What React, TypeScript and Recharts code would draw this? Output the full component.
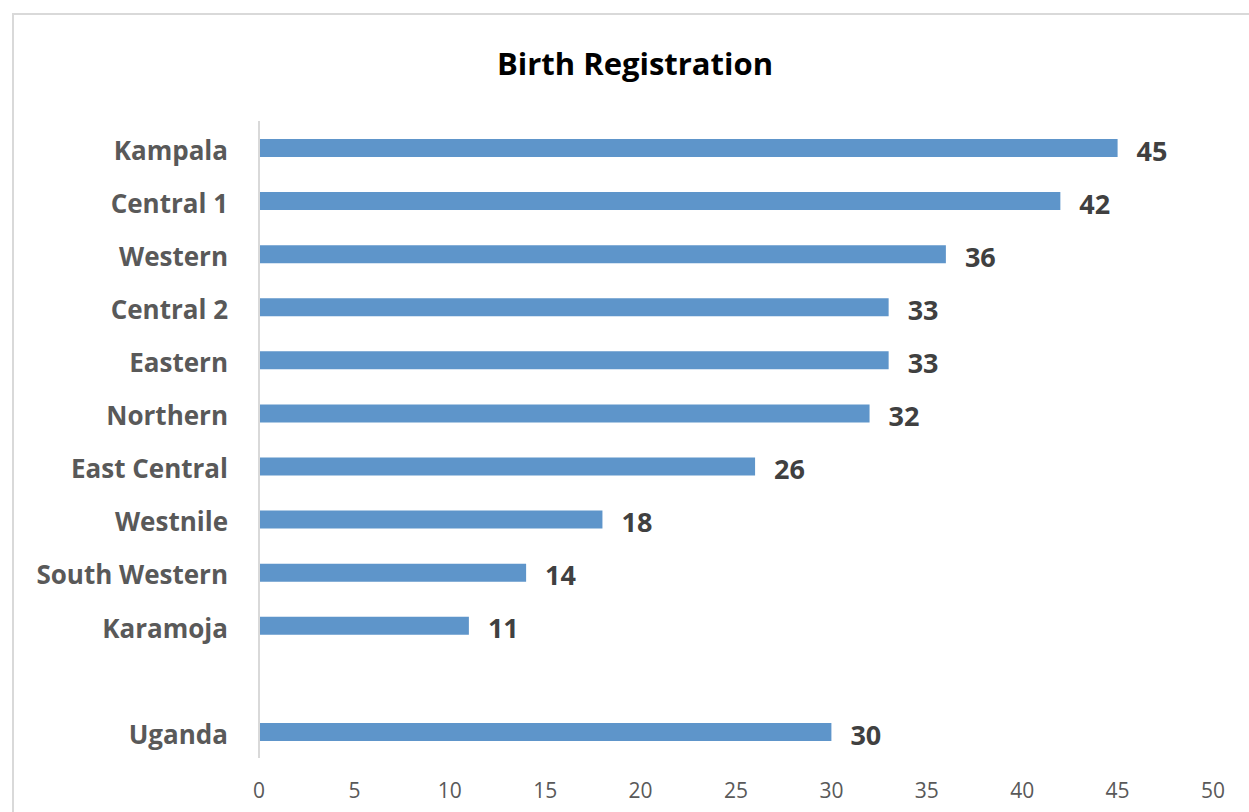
import { BarChart, Bar, XAxis, YAxis, LabelList } from "recharts";

// Regions, top to bottom; the empty name is the gap before Uganda
const REGIONS = [
  "Kampala",
  "Central 1",
  "Western",
  "Central 2",
  "Eastern ",
  "Northern",
  "East Central",
  "Westnile",
  "South Western",
  "Karamoja",
  "",
  "Uganda",
];
const REGISTERED = [45, 42, 36, 33, 33, 32, 26, 18, 14, 11, null, 30];
const X_TICKS = [0, 5, 10, 15, 20, 25, 30, 35, 40, 45, 50];

const data = REGIONS.map((name, i) => ({ name, value: REGISTERED[i] }));

const FONT = "'Open Sans', 'Noto Sans', sans-serif";

export default function App() {
  return (
    <div
      style={{
        position: "fixed",
        top: 0,
        left: 0,
        width: 1249,
        height: 812,
        background: "#fff",
        fontFamily: FONT,
        overflow: "hidden",
      }}
    >
      <div
        style={{
          position: "absolute",
          left: 12,
          top: 13,
          width: 1300,
          height: 900,
          borderTop: "2px solid #d9d9d9",
          borderLeft: "2px solid #d9d9d9",
        }}
      />
      <div
        style={{
          position: "absolute",
          left: 0,
          width: 1270,
          top: 42,
          textAlign: "center",
          fontSize: 31,
          fontWeight: 700,
          color: "#000",
        }}
      >
        Birth Registration
      </div>
      <BarChart
        width={1249}
        height={812}
        data={data}
        layout="vertical"
        margin={{ top: 121, right: 36, bottom: 0, left: 0 }}
        barCategoryGap={17}
        style={{ position: "absolute", top: 0, left: 0 }}
      >
        <XAxis
          type="number"
          domain={[0, 50]}
          ticks={X_TICKS}
          interval={0}
          height={54}
          axisLine={false}
          tickLine={false}
          tickSize={0}
          tickMargin={25}
          tick={{ fill: "#595959", fontSize: 21, fontFamily: FONT }}
        />
        <YAxis
          type="category"
          dataKey="name"
          width={259}
          interval={0}
          axisLine={{ stroke: "#d9d9d9", strokeWidth: 2 }}
          tickLine={false}
          tickSize={0}
          tickMargin={31}
          tick={{ fill: "#595959", fontSize: 26, fontWeight: 700, fontFamily: FONT, dy: 3 }}
        />
        <Bar dataKey="value" fill="#5E95CA" barSize={18} isAnimationActive={false}>
          <LabelList
            dataKey="value"
            position="right"
            offset={19}
            dy={3}
            style={{ fill: "#404040", fontSize: 27, fontWeight: 700, fontFamily: FONT }}
          />
        </Bar>
      </BarChart>
    </div>
  );
}
